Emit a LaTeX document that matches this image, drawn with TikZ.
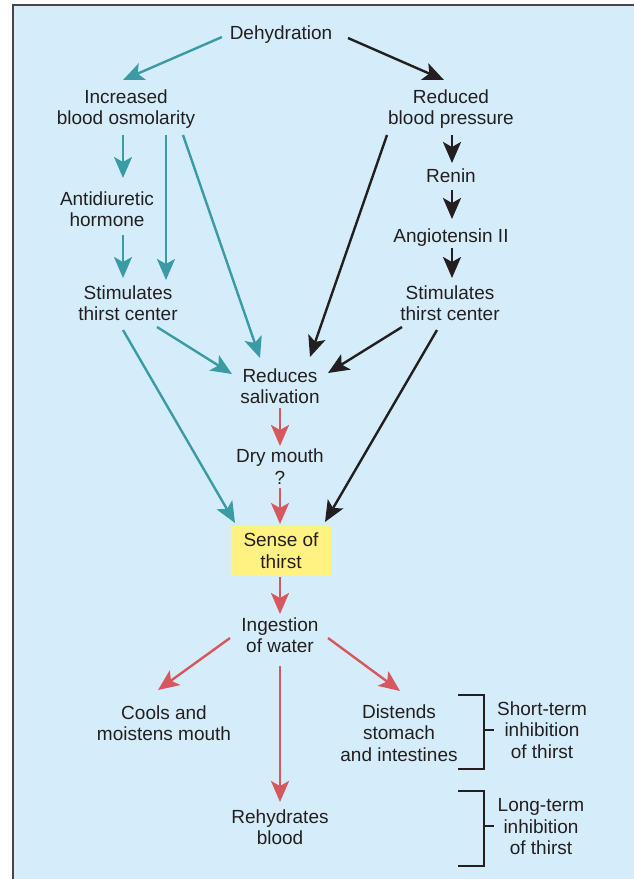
\documentclass[tikz,border=0pt]{standalone}
\usepackage{fontspec}
\setmainfont{Liberation Sans}
\usetikzlibrary{arrows.meta,calc}
\definecolor{bgblue}{RGB}{213,237,250}
\definecolor{tealc}{RGB}{58,155,165}
\definecolor{redc}{RGB}{214,88,94}
\definecolor{blk}{RGB}{35,31,32}
\definecolor{yel}{RGB}{255,242,130}
\definecolor{framec}{RGB}{70,70,70}
\tikzset{
  lbl/.style={align=center, text=blk, inner sep=0pt, font=\fontsize{19}{21.5}\selectfont},
  arr/.style={line width=2.4pt, -{Stealth[length=21pt,width=18pt,inset=5pt]}},
  tarr/.style={arr, draw=tealc},
  barr/.style={arr, draw=blk},
  rarr/.style={arr, draw=redc},
  brk/.style={draw=blk, line width=1.3pt},
}
\begin{document}
\begin{tikzpicture}[x=1pt,y=-1pt]
\useasboundingbox (0,0) rectangle (634,879);
\fill[bgblue] (13,5) rectangle (634,879);
\draw[framec, line width=2pt] (13,879) -- (13,5) -- (634,5);

\node[lbl] (dehyd) at (281,35) {Dehydration};
\node[lbl] (incr) at (126,109) {Increased\\blood osmolarity};
\node[lbl] (redbp) at (451,109) {Reduced\\blood pressure};
\node[lbl] (renin) at (451,176) {Renin};
\node[lbl] (angio) at (451,238) {Angiotensin II};
\node[lbl] (stimR) at (450,303) {Stimulates\\thirst center};
\node[lbl] (adh) at (107,209) {Antidiuretic\\hormone};
\node[lbl] (stimL) at (128,303) {Stimulates\\thirst center};
\node[lbl] (redsal) at (280,386) {Reduces\\salivation};
\node[lbl] (dry) at (280,466.5) {Dry mouth\\?};
\node[lbl, fill=yel, minimum width=100pt, minimum height=50pt] (sense) at (281,550.5) {Sense of\\thirst};
\node[lbl] (ingest) at (280,635) {Ingestion\\of water};
\node[lbl] (cools) at (164,723) {Cools and\\moistens mouth};
\node[lbl] (distend) at (399,733) {Distends\\stomach\\and intestines};
\node[lbl] (short) at (542,730) {Short-term\\inhibition\\of thirst};
\node[lbl] (rehyd) at (280,827) {Rehydrates\\blood};
\node[lbl] (long) at (541,827) {Long-term\\inhibition\\of thirst};

\draw[tarr] ($(dehyd)+(-59,2)$) -- ($(incr)+(-3,-29)$);
\draw[barr] ($(dehyd)+(67,3)$) -- ($(redbp)+(-7,-29)$);
\draw[tarr] ($(incr)+(-3,26)$) -- ($(adh)+(16,-31)$);
\draw[tarr] ($(incr)+(40,26)$) -- ($(stimL)+(38,-23)$);
\draw[tarr] ($(incr)+(57,26)$) -- ($(redsal)+(-20,-28)$);
\draw[tarr] ($(adh)+(16,26)$) -- ($(stimL)+(-5,-25)$);
\draw[barr] ($(redbp)+(-64,26)$) -- ($(redsal)+(30,-29)$);
\draw[barr] ($(redbp)+(1,26)$) -- ($(renin)+(1,-13)$);
\draw[barr] ($(renin)+(1,14)$) -- ($(angio)+(1,-19)$);
\draw[barr] ($(angio)+(1,10)$) -- ($(stimR)+(2,-25)$);
\draw[tarr] ($(stimL)+(29,24)$) -- ($(redsal)+(-48,-12)$);
\draw[barr] ($(stimR)+(-48,24)$) -- ($(redsal)+(48,-13)$);
\draw[tarr] ($(stimL)+(-5,27)$) -- ($(sense)+(-46,-27.5)$);
\draw[barr] ($(stimR)+(-13,27)$) -- ($(sense)+(44,-28.5)$);
\draw[rarr] ($(redsal)+(0,22)$) -- ($(dry)+(0,-20.5)$);
\draw[rarr] ($(dry)+(0,21.5)$) -- ($(sense)+(-1,-26.5)$);
\draw[rarr] ($(sense)+(-1,26.5)$) -- ($(ingest)+(0,-21)$);
\draw[rarr] ($(ingest)+(-50,3)$) -- ($(cools)+(-6,-33)$);
\draw[rarr] ($(ingest)+(0,31)$) -- ($(rehyd)+(0,-25)$);
\draw[rarr] ($(ingest)+(48,3)$) -- ($(distend)+(1,-42)$);

\draw[brk] ($(short)+(-84,-35)$) -- ($(short)+(-58,-35)$) -- ($(short)+(-58,39)$) -- ($(short)+(-84,39)$);
\draw[brk] ($(short)+(-58,0)$) -- ($(short)+(-48,0)$);
\draw[brk] ($(long)+(-83,-36)$) -- ($(long)+(-57,-36)$) -- ($(long)+(-57,39)$) -- ($(long)+(-83,39)$);
\draw[brk] ($(long)+(-57,-1)$) -- ($(long)+(-47,-1)$);
\end{tikzpicture}
\end{document}
